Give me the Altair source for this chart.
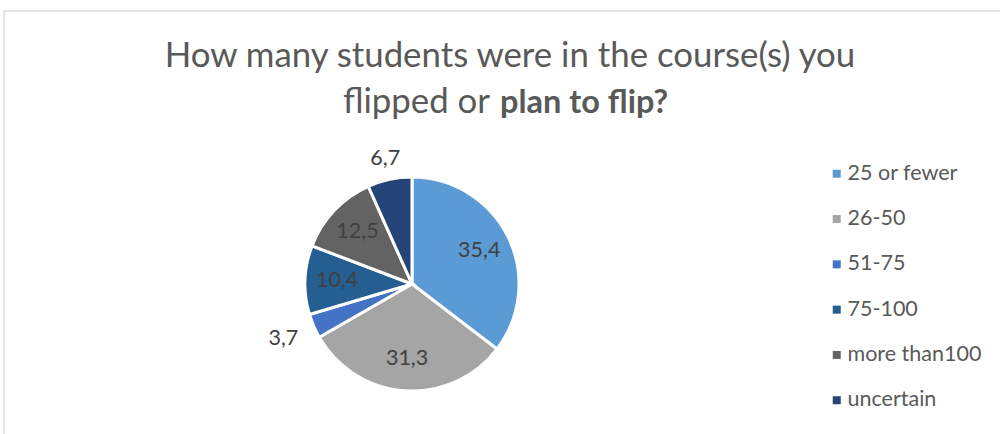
import altair as alt
import pandas as pd

categories = ["25 or fewer", "26-50", "51-75", "75-100", "more than100", "uncertain"]
values = [35.4, 31.3, 3.7, 10.4, 12.5, 6.7]
labels = ["35,4", "31,3", "3,7", "10,4", "12,5", "6,7"]
colors = ["#5B9BD5", "#A5A5A5", "#4472C4", "#255E91", "#636363", "#264478"]

df = pd.DataFrame({"cat": categories, "value": values, "label": labels,
                   "order": list(range(len(categories)))})

FONT = "Lato"
CX, CY, R = 412, 284, 107

pie = alt.Chart(df).mark_arc(outerRadius=R, stroke="white", strokeWidth=3).encode(
    theta=alt.Theta("value:Q", stack=True),
    order=alt.Order("order:Q"),
    x=alt.value(CX), y=alt.value(CY),
    color=alt.Color("cat:N", scale=alt.Scale(domain=categories, range=colors),
                    sort=categories,
                    legend=alt.Legend(title=None, orient="none", legendX=826, legendY=163,
                                      symbolType="square", symbolSize=64,
                                      symbolStrokeWidth=0,
                                      labelFont=FONT, labelFontSize=21.5, labelColor="#595959",
                                      labelOffset=0, rowPadding=22.3, labelLimit=300)),
)

text = alt.Chart(df).transform_joinaggregate(
    total="sum(value)"
).transform_window(
    cum="sum(value)", sort=[alt.SortField("order")], frame=[None, 0]
).transform_calculate(
    mid="(datum.cum - datum.value / 2) / datum.total * 2 * PI",
    lr="datum.value < 5 ? 140 : (datum.value < 8 ? 128 : 75)",
).mark_text(font=FONT, fontSize=21.5, color="#404040").encode(
    x=alt.value(CX), y=alt.value(CY),
    theta=alt.Theta("mid:Q", scale=None),
    radius=alt.Radius("lr:Q", scale=None),
    text="label:N",
)

t1 = alt.Chart(pd.DataFrame({"t": ["How many students were in the course(s) you"]})).mark_text(
    font=FONT, fontSize=34.8, color="#595959", align="center", baseline="alphabetic").encode(
    x=alt.value(510), y=alt.value(67), text="t:N")
t2a = alt.Chart(pd.DataFrame({"t": ["flipped or"]})).mark_text(
    font=FONT, fontSize=34.8, color="#595959", align="right", baseline="alphabetic").encode(
    x=alt.value(490), y=alt.value(113), text="t:N")
t2b = alt.Chart(pd.DataFrame({"t": ["plan to flip?"]})).mark_text(
    font=FONT, fontSize=32.5, fontWeight="bold", color="#595959", align="left",
    baseline="alphabetic").encode(
    x=alt.value(500), y=alt.value(113), text="t:N")

frame = alt.Chart(pd.DataFrame({"a": [0]})).mark_rect(
    fill="white", fillOpacity=0, stroke="#D9D9D9", strokeWidth=1.3).encode(
    x=alt.value(4), x2=alt.value(1010), y=alt.value(11), y2=alt.value(450))

chart = alt.layer(frame, pie, text, t1, t2a, t2b).properties(
    width=1000, height=434, padding=0, autosize=alt.AutoSizeParams(type="none"),
    background="white",
).configure_view(stroke=None)

chart.save("out.html", embed_options={"renderer": "svg", "actions": False})
